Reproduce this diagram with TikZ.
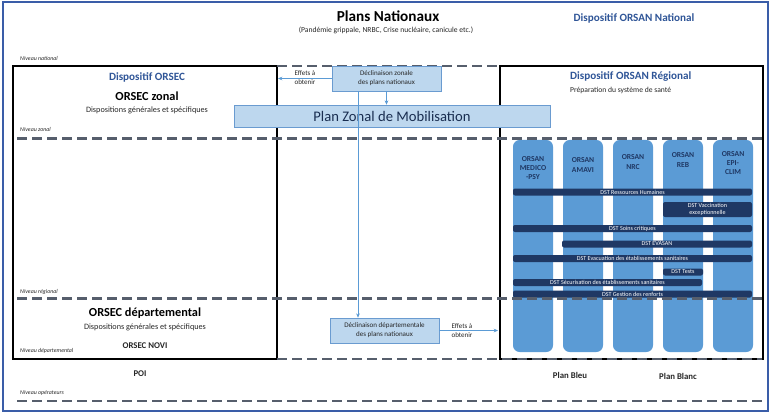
\documentclass[tikz,border=0pt]{standalone}
\usepackage{fontspec}
\setmainfont{Carlito}
\usetikzlibrary{arrows.meta}

\definecolor{cadre}{HTML}{3A5DA8}
\definecolor{titrebleu}{HTML}{2F5597}
\definecolor{bleuclair}{HTML}{BDD7EE}
\definecolor{bordclair}{HTML}{6A9BD0}
\definecolor{bleucol}{HTML}{5B9BD5}
\definecolor{marine}{HTML}{1F3864}
\definecolor{tirets}{HTML}{565E6C}
\definecolor{texte}{HTML}{262626}

\tikzset{
	niveau/.style={draw=tirets, line width=2pt, dash pattern=on 3mm off 1.5mm},
	cadrenoir/.style={draw=black, line width=1.4pt},
	decl/.style={draw=bordclair, fill=bleuclair, line width=0.5pt, minimum width=32.7mm, minimum height=7.5mm, inner sep=0pt, align=center, text=texte, font=\fontsize{6}{7.6}\selectfont},
	fleche/.style={draw=bleucol, line width=0.7pt, -{Stealth[length=1.3mm,width=1.1mm]}},
	colbox/.style={fill=bleucol, rounded corners=2mm, minimum width=12mm, minimum height=63.6mm, inner sep=0pt},
	orsanlbl/.style={align=center, text=marine, font=\fontsize{6.5}{8}\selectfont\bfseries},
	dstbar/.style={fill=marine, rounded corners=0.6mm, minimum height=2.1mm, inner sep=0pt, align=center, text=white, font=\fontsize{5.2}{6.2}\selectfont},
	nivlbl/.style={anchor=west, inner sep=0pt, text=texte, font=\fontsize{5}{6}\selectfont\itshape},
	bleutitre/.style={text=titrebleu, font=\fontsize{9.5}{11}\selectfont\bfseries},
	grandtitre/.style={text=black, font=\fontsize{10.5}{12}\selectfont\bfseries},
	soustitre/.style={text=texte, font=\fontsize{7}{8.5}\selectfont},
	petitgras/.style={text=texte, font=\fontsize{7.5}{9}\selectfont\bfseries},
	effets/.style={align=center, text=texte, font=\fontsize{6}{7.6}\selectfont},
}

\begin{document}
\begin{tikzpicture}[x=0.3mm, y=-0.3mm]
	%%%%% START %%%%%
	\useasboundingbox (0,0) rectangle (771,414);
	\draw[cadre, line width=1.6pt] (3,2) rectangle (768,411);
	
	\node[text=black, font=\fontsize{13}{15}\selectfont\bfseries] (plans) at (388,16) {Plans Nationaux};
	\node[text=texte, font=\fontsize{6.5}{8}\selectfont] (crises) at (386,30) {(Pandémie grippale, NRBC, Crise nucléaire, canicule etc.)};
	\node[bleutitre] (orsannat) at (634,18) {Dispositif ORSAN National};
	
	% cadres ORSEC et ORSAN
	\draw[cadrenoir] (13,66) rectangle (277,359);
	\draw[cadrenoir] (500,66) rectangle (763,359);
	
	% colonnes ORSAN
	\node[colbox] (medico) at (533,246) {};
	\node[colbox] (amavi) at (583,246) {};
	\node[colbox] (nrc) at (633,246) {};
	\node[colbox] (reb) at (683,246) {};
	\node[colbox] (epiclim) at (733,246) {};
	\node[orsanlbl] (lmedico) at (533,168) {ORSAN\\MEDICO\\-PSY};
	\node[orsanlbl] (lamavi) at (583,165) {ORSAN\\AMAVI};
	\node[orsanlbl] (lnrc) at (633,162) {ORSAN\\NRC};
	\node[orsanlbl] (lreb) at (683,160) {ORSAN\\REB};
	\node[orsanlbl] (lepiclim) at (733,163) {ORSAN\\EPI-\\CLIM};
	
	% DST
	\node[dstbar, minimum width=71.7mm] (rh) at (632.5,192) {DST Ressources Humaines};
	\node[dstbar, minimum width=26.7mm, minimum height=4.5mm] (vacc) at (707.5,209.5) {DST Vaccination\\exceptionnelle};
	\node[dstbar, minimum width=71.7mm] (soins) at (632.5,228.5) {DST Soins critiques};
	\node[dstbar, minimum width=57mm] (evasan) at (657,244) {DST EVASAN};
	\node[dstbar, minimum width=71.7mm] (evac) at (632.5,258.5) {DST Evacuation des établissements sanitaires};
	\node[dstbar, minimum width=12mm] (tests) at (683,272) {DST Tests};
	\node[dstbar, minimum width=56.7mm] (secu) at (607.5,282.5) {DST Sécurisation des établissements sanitaires};
	\node[dstbar, minimum width=71.7mm] (renforts) at (632.5,294) {DST Gestion des renforts};
	
	% niveaux
	\draw[niveau] (277,66) -- (500,66);
	\draw[niveau] (17,138.5) -- (762,138.5);
	\draw[niveau] (17,298.5) -- (762,298.5);
	\draw[niveau] (277,359) -- (762,359);
	\draw[niveau] (17,401) -- (762,401);
	\node[nivlbl] (nnat) at (20,58) {Niveau national};
	\node[nivlbl] (nzon) at (20,129) {Niveau zonal};
	\node[nivlbl] (nreg) at (20,292) {Niveau régional};
	\node[nivlbl] (ndep) at (20,351) {Niveau départemental};
	\node[nivlbl] (nope) at (20,393) {Niveau opérateurs};
	
	% ORSEC
	\node[bleutitre] (orsec) at (147,77) {Dispositif ORSEC};
	\node[grandtitre] (orseczon) at (147,96) {ORSEC zonal};
	\node[soustitre] (dispzon) at (147,110) {Dispositions générales et spécifiques};
	\node[grandtitre] (orsecdep) at (145,313) {ORSEC départemental};
	\node[soustitre] (dispdep) at (145,327) {Dispositions générales et spécifiques};
	\node[petitgras] (novi) at (145,346) {ORSEC NOVI};
	\node[petitgras] (poi) at (140,374) {POI};
	
	% ORSAN regional
	\node[bleutitre, anchor=west] (orsanreg) at (566,77) {Dispositif ORSAN Régional};
	\node[soustitre, anchor=west, font=\fontsize{6.5}{8}\selectfont] (prep) at (566,90) {Préparation du système de santé};
	\node[petitgras] (bleu) at (570,375) {Plan Bleu};
	\node[petitgras] (blanc) at (678,376) {Plan Blanc};
	
	% declinaisons
	\node[decl] (dzon) at (386.5,78.5) {Déclinaison zonale\\des plans nationaux};
	\node[draw=bordclair, fill=bleuclair, line width=0.5pt, minimum width=94.8mm, minimum height=6.6mm, inner sep=0pt, text=marine!80!black, font=\fontsize{12.5}{14}\selectfont] (pzm) at (392,116) {Plan Zonal de Mobilisation};
	\node[decl] (ddep) at (384.5,330.5) {Déclinaison départementale\\des plans nationaux};
	
	\coordinate (effzon) at (278,78.5);
	\coordinate (effdep) at (498,330.5);
	\draw[fleche] (dzon.west) -- (effzon);
	\node[effets] (leffzon) at (305,78) {Effets à\\obtenir};
	\draw[fleche] (dzon.south) -- (dzon.south |- pzm.north);
	\draw[fleche] ([xshift=-8.55mm]dzon.south) -- ([xshift=-8.55mm]dzon.south |- ddep.north);
	\draw[fleche] (ddep.east) -- (effdep);
	\node[effets] (leffdep) at (462,331) {Effets à\\obtenir};
	%%%%% END %%%%%
\end{tikzpicture}
\end{document}
